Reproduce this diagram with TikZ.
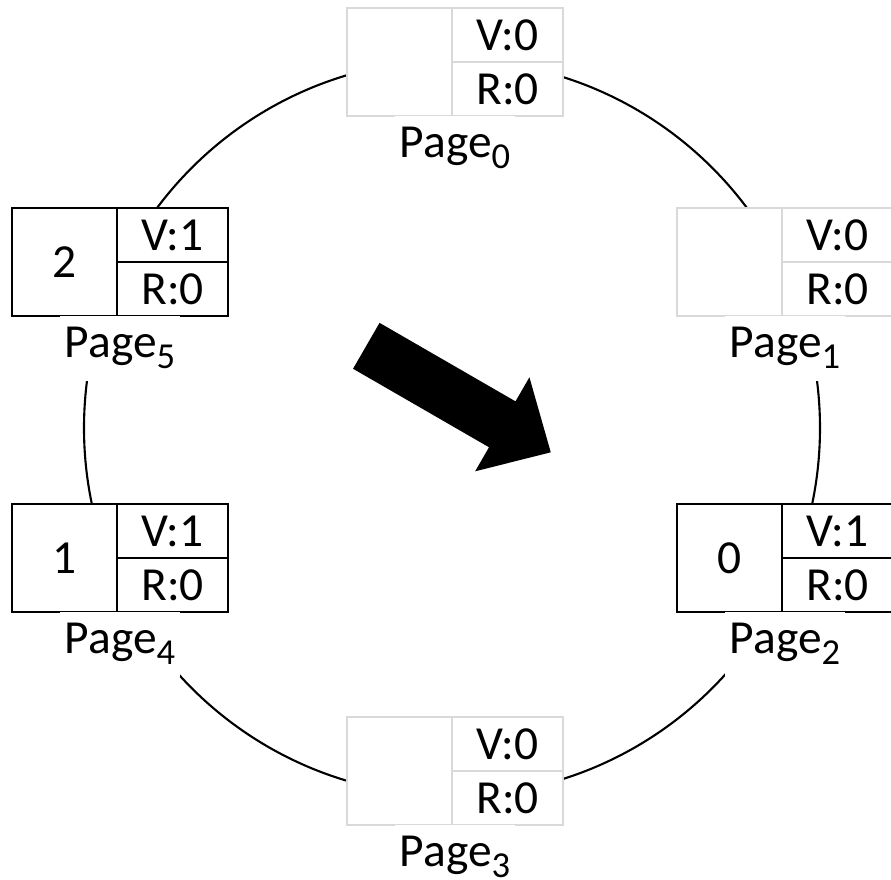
\documentclass[tikz,border=0pt]{standalone}
\usepackage{fontspec}
\setmainfont{Carlito}
\usepackage{tikz}
\usepackage{tkz-euclide}
\usepackage{xcolor}
\usetikzlibrary{positioning}
\definecolor{emptyline}{RGB}{217,217,217}
\newcommand{\pagesub}[1]{\raisebox{-0.24em}{\fontsize{10.4}{11}\selectfont #1}}
\tikzset{
  cell/.style={draw, fill=white, line width=0.7pt, inner sep=0pt, outer sep=0pt, font=\fontsize{13.5}{15}\selectfont},
  numcell/.style={cell, minimum width=1.05cm, minimum height=1.08cm},
  bitcell/.style={cell, minimum width=1.11cm, minimum height=0.54cm},
  pagelabel/.style={fill=white, inner xsep=0.05cm, inner ysep=0.115cm, outer sep=0pt, text height=0.3cm, text depth=0.12cm, font=\fontsize{13.5}{15}\selectfont}
}

\begin{document}
\begin{tikzpicture}
    \useasboundingbox (0,0) rectangle (8.91,8.79);
    \tkzDefPoints{4.52/4.51/O,8.20/4.51/A}
    \tkzDrawCircle[black, line width=0.6pt](O,A)
    \foreach \n/\x/\y/\num/\v/\col in {
        0/3.47/8.71/ /0/emptyline,
        1/6.77/6.71/ /0/emptyline,
        2/6.77/3.75/0/1/black,
        3/3.47/1.62/ /0/emptyline,
        4/0.12/3.75/1/1/black,
        5/0.12/6.71/2/1/black}{
        \node[numcell, draw=\col, anchor=north west] (p\n-num) at (\x,\y) {\num};
        \node[bitcell, draw=\col, anchor=north west] (p\n-v) at (p\n-num.north east) {V:\v};
        \node[bitcell, draw=\col, anchor=north west] (p\n-r) at (p\n-v.south west) {R:0};
        \node[pagelabel, below=0pt of p\n-num.south east, xshift=0.03cm] (p\n-label) {Page\pagesub{\n}};
    }
    % hand of the clock
    \fill[shift={(3.663,5.332)}, rotate=-30]
        (0,0.265) -- (1.57,0.265) -- (1.57,0.543) -- (2.13,0)
        -- (1.57,-0.543) -- (1.57,-0.265) -- (0,-0.265) -- cycle;
\end{tikzpicture}
\end{document}
